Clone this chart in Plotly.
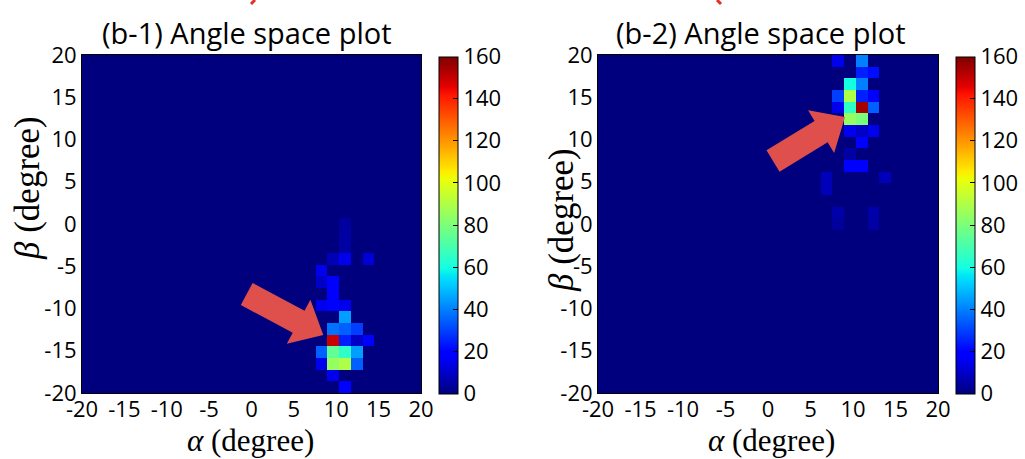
import numpy as np
import plotly.graph_objects as go

# ---------------- data ----------------
N_BINS = 29
bin_edges = np.linspace(-20, 20, N_BINS + 1)
tick_vals = [-20, -15, -10, -5, 0, 5, 10, 15, 20]
tick_text = ["-20", "-15", "-10", "-5", "0", "5", "10", "15", "20"]
cbar_ticks = [0, 20, 40, 60, 80, 100, 120, 140, 160]
titles = ["(b-1) Angle space plot", "(b-2) Angle space plot"]

# panel (b-1): alpha bin index, beta bin index (from bottom), count
p1_alpha_bin = [22, 21, 20, 21, 22, 23, 20, 21, 22, 23, 21, 22, 23, 24, 21, 22, 23, 22,
                20, 21, 22, 21, 20, 21, 20, 21, 22, 24, 22, 22, 22]
p1_beta_bin  = [0, 1, 2, 2, 2, 2, 3, 3, 3, 3, 4, 4, 4, 4, 5, 5, 5, 6,
                7, 7, 7, 8, 9, 9, 10, 11, 11, 11, 12, 13, 14]
p1_count     = [18, 15, 15, 85, 90, 35, 35, 75, 65, 45, 150, 25, 10, 20, 38, 35, 30, 45,
                15, 20, 15, 20, 10, 18, 15, 8, 15, 12, 5, 5, 4]

# panel (b-2)
p2_alpha_bin = [20, 22, 22, 23, 21, 22, 20, 21, 22, 23, 20, 21, 22, 23, 21, 22,
                21, 22, 23, 22, 21, 21, 22, 19, 24, 19, 20, 23, 20, 23]
p2_beta_bin  = [28, 28, 27, 27, 26, 26, 25, 25, 25, 25, 24, 24, 24, 24, 23, 23,
                22, 22, 22, 21, 20, 19, 19, 18, 18, 17, 15, 15, 14, 14]
p2_count     = [15, 40, 25, 22, 60, 40, 30, 90, 25, 20, 15, 65, 155, 35, 85, 80,
                15, 10, 15, 20, 5, 18, 18, 8, 8, 8, 6, 6, 4, 5]


def build_grid(a_bins, b_bins, counts):
    z = np.zeros((N_BINS, N_BINS))
    for a, b, c in zip(a_bins, b_bins, counts):
        z[b, a] = c
    return z


# matplotlib-style jet colorscale
def jet_rgb(v):
    r = np.interp(v, [0, 0.35, 0.66, 0.89, 1], [0, 0, 1, 1, 0.5])
    g = np.interp(v, [0, 0.125, 0.375, 0.64, 0.91, 1], [0, 0, 1, 1, 0, 0])
    b = np.interp(v, [0, 0.11, 0.34, 0.65, 1], [0.5, 1, 1, 0, 0])
    return f"rgb({int(r*255)},{int(g*255)},{int(b*255)})"


jet = [[float(v), jet_rgb(v)] for v in np.linspace(0, 1, 81)]

W, H = 1025, 459


def px(x):
    return x / W


def py(y):
    return 1 - y / H


panels = [
    dict(z=build_grid(p1_alpha_bin, p1_beta_bin, p1_count), cbx=439, xa="x", ya="y"),
    dict(z=build_grid(p2_alpha_bin, p2_beta_bin, p2_count), cbx=956, xa="x2", ya="y2"),
]
PY0, PY1 = 55, 393

fig = go.Figure()
for p in panels:
    fig.add_trace(go.Heatmap(
        x=bin_edges, y=bin_edges, z=p["z"], zmin=0, zmax=160, colorscale=jet,
        xaxis=p["xa"], yaxis=p["ya"], hoverinfo="skip",
        colorbar=dict(
            x=px(p["cbx"]), xanchor="left", xpad=0, ypad=0,
            y=py((PY0 + PY1) / 2 + 1), yanchor="middle",
            thickness=19, thicknessmode="pixels", len=337, lenmode="pixels",
            outlinewidth=1, outlinecolor="black",
            tickvals=cbar_ticks, ticks="inside", ticklen=5, tickcolor="black",
            tickfont=dict(family="Open Sans", size=22, color="black"),
        ),
    ))

axis_common = dict(range=[-20, 20], tickvals=tick_vals, ticktext=tick_text,
                   showgrid=False, zeroline=False,
                   showline=True, linecolor="black", linewidth=1, mirror=True, ticks="",
                   automargin=False,
                   tickfont=dict(family="Open Sans", size=22, color="black"))

fig.update_layout(
    width=W, height=H, margin=dict(l=0, r=0, t=0, b=0, autoexpand=False),
    paper_bgcolor="white", plot_bgcolor="white",
    xaxis=dict(domain=[px(82), px(421)], anchor="y", ticklabelstandoff=-3, **axis_common),
    yaxis=dict(domain=[py(PY1), py(PY0)], anchor="x", **axis_common),
    xaxis2=dict(domain=[px(598), px(938)], anchor="y2", ticklabelstandoff=-3, **axis_common),
    yaxis2=dict(domain=[py(PY1), py(PY0)], anchor="x2", **axis_common),
)

# titles and axis labels
ann = []
for t, cx in zip(titles, [247, 761]):
    ann.append(dict(text=t, x=px(cx), y=py(32), xref="paper", yref="paper",
                    showarrow=False, xanchor="center", yanchor="middle",
                    font=dict(family="Open Sans", size=29, color="black")))
for cx in [250, 771]:
    ann.append(dict(text="<i>α</i> (degree)", x=px(cx), y=py(440), xref="paper", yref="paper",
                    showarrow=False, xanchor="center", yanchor="middle",
                    font=dict(family="Liberation Serif", size=31, color="black")))
for cx, cy in [(28, 188), (561, 220)]:
    ann.append(dict(text="<i>β</i> (degree)", x=px(cx), y=py(cy), xref="paper", yref="paper",
                    showarrow=False, xanchor="center", yanchor="middle", textangle=-90,
                    font=dict(family="Liberation Serif", size=35, color="black")))
fig.update_layout(annotations=ann)


# red block arrows (overlay marks)
def arrow_path(tail, tip, shw, hhw, hlen):
    tail = np.array(tail, float)
    tip = np.array(tip, float)
    d = tip - tail
    d /= np.linalg.norm(d)
    n = np.array([-d[1], d[0]])
    base = tip - d * hlen
    pts = [tail + n * shw, base + n * shw, base + n * hhw, tip,
           base - n * hhw, base - n * shw, tail - n * shw]
    s = "M " + " L ".join(f"{px(p[0]):.5f},{py(p[1]):.5f}" for p in pts) + " Z"
    return s


shapes = []
for tail, tip in [((246.7, 294), (323.3, 335)), ((773, 161), (845, 117))]:
    shapes.append(dict(type="path", path=arrow_path(tail, tip, 12.5, 25, 28),
                       xref="paper", yref="paper", fillcolor="#df4f4b",
                       line=dict(width=0)))
for (xa, ya, xb, yb) in [(255, 0, 251, 4), (717, 0, 721, 4)]:
    shapes.append(dict(type="line", x0=px(xa), y0=py(ya), x1=px(xb), y1=py(yb),
                       xref="paper", yref="paper", line=dict(color="#e0302a", width=3)))
fig.update_layout(shapes=shapes)

fig.write_html("out.html")
